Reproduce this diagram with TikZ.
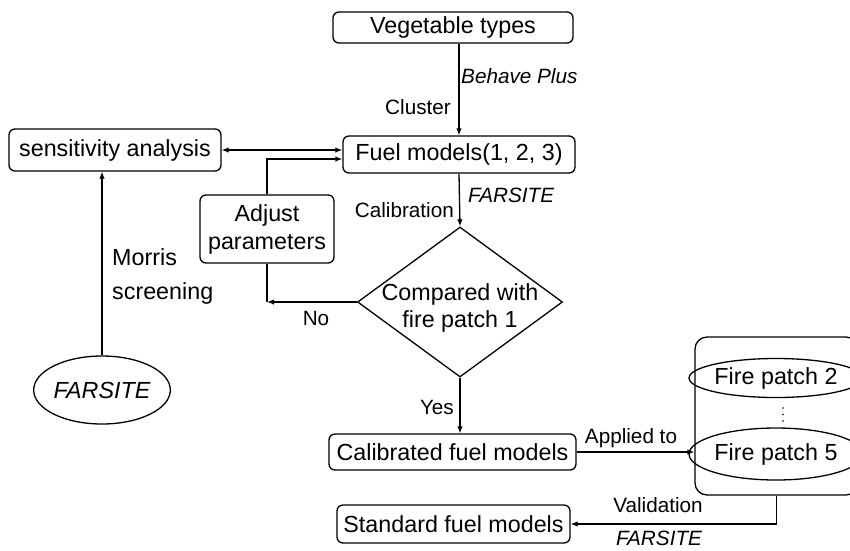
\documentclass[tikz,border=0pt]{standalone}
\usepackage{fontspec}
\setmainfont{Liberation Sans}
\usetikzlibrary{shapes.geometric,arrows.meta}
\begin{document}
\begin{tikzpicture}[x=1pt,y=-1pt,
  every node/.style={font=\fontsize{23.3}{28}\selectfont},
  box/.style={draw,line width=1.3pt,rounded corners=6pt,inner sep=0pt},
  ell/.style={draw,ellipse,line width=1.3pt,inner sep=0pt},
  lab/.style={font=\fontsize{20.7}{25}\selectfont,inner sep=0pt},
  arr/.style={-{Latex[length=7pt,width=5.5pt]},line width=1.3pt},
  darr/.style={{Latex[length=7pt,width=5.5pt]}-{Latex[length=7pt,width=5.5pt]},line width=1.3pt},
  ln/.style={line width=1.3pt}]
\useasboundingbox (0,0) rectangle (850,550);
\fill[white] (0,0) rectangle (850,550);

% nodes
\node[box,minimum width=240pt,minimum height=31pt] (veg) at (453,27.5) {Vegetable types};
\node[box,minimum width=232pt,minimum height=37pt] (fuel) at (459,154.5) {Fuel models(1, 2, 3)};
\node[box,minimum width=212pt,minimum height=42pt] (sens) at (115,150) {sensitivity analysis};
\node[box,minimum width=134pt,minimum height=68pt,align=center] (adj) at (267,229) {Adjust\\parameters};
\node[draw,diamond,line width=1.3pt,inner sep=0pt,minimum width=205pt,minimum height=150pt] (dia) at (460,302) {};
\node[align=center,font=\fontsize{23.3}{27}\selectfont,inner sep=0pt] (diatext) at (460,308) {Compared with\\fire patch 1};
\node[ell,minimum width=126pt,minimum height=68pt] (far) at (102,390) {\itshape FARSITE};
\node[box,minimum width=247pt,minimum height=36pt] (cal) at (452.5,452) {Calibrated fuel models};
\node[box,minimum width=233pt,minimum height=38pt] (std) at (453.5,524) {Standard fuel models};
\node[draw,line width=1.3pt,rounded corners=12pt,inner sep=0pt,minimum width=163pt,minimum height=158pt] (grp) at (776.5,416) {};
\node[ell,minimum width=148pt,minimum height=39pt] (fp2) at (776,378) {Fire patch 2};
\node[ell,minimum width=148pt,minimum height=52pt] (fp5) at (776,454) {Fire patch 5};
\coordinate (dots) at (783,414.5);
\foreach \d in {-6.5,0,6.5} \fill ([yshift=-\d pt]dots) circle (0.9pt);
\coordinate (corner) at (adj.south |- dia.west);

% connectors
\draw[arr] (veg.south -| fuel.north) -- (fuel.north);
\node[lab,anchor=west] (bp) at (461,76) {\itshape Behave Plus};
\node[lab,anchor=east] (cl) at (451,107) {Cluster};

\draw[arr] (fuel.south) -- (dia.north);
\node[lab,anchor=west] (fs1) at (468,195) {\itshape FARSITE};
\node[lab,anchor=east] (calib) at (454,210) {Calibration};

\draw[darr] (sens.east) -- (sens.east -| fuel.west);
\draw[arr] (adj.north) |- ([yshift=-4.5pt]fuel.west);

\draw[arr] (dia.west) -- (corner);
\draw[ln] (adj.south) -- (corner);
\node[lab] (no) at (316,318) {No};

\draw[arr] (far.north) -- (far.north |- sens.south);
\node[anchor=west,inner sep=0pt] (mo) at (112,257) {Morris};
\node[anchor=west,inner sep=0pt] (sc) at (112,293) {screening};

\draw[arr] (dia.south) -- (dia.south |- cal.north);
\node[lab,anchor=east] (yes) at (454,407) {Yes};

\draw[arr] (cal.east) -- (cal.east -| grp.west);
\node[lab] (app) at (631,438) {Applied to};

\draw[arr] (grp.south) |- (std.east);
\node[lab] (val) at (658,505) {Validation};
\node[lab] (fs2) at (659,538) {\itshape FARSITE};
\end{tikzpicture}
\end{document}
